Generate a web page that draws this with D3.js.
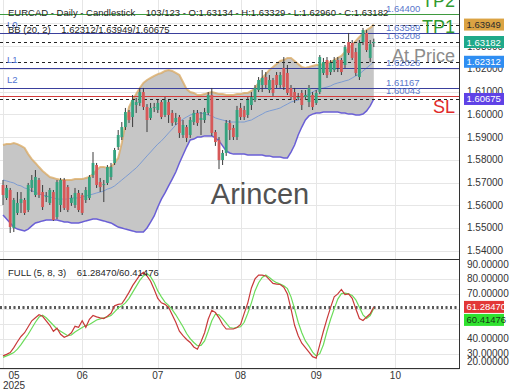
<!DOCTYPE html>
<html>
<head>
<meta charset="utf-8">
<script src="https://cdn.jsdelivr.net/npm/d3@7"></script>
<style>
  html, body { margin: 0; padding: 0; background: #fff; }
  svg { display: block; font-family: "Liberation Sans", Arial, sans-serif; }
</style>
</head>
<body>
<svg id="chart" width="520" height="390"></svg>
<script>
// --- Data -------------------------------------------------------------------
const opens = [1.5689,1.5632,1.5667,1.5500,1.5566,1.5610,1.5623,1.5579,1.5676,1.5645,
  1.5711,1.5658,1.5636,1.5610,1.5658,1.5548,1.5601,1.5711,1.5680,1.5610,
  1.5601,1.5654,1.5645,1.5623,1.5632,1.5733,1.5777,1.5702,1.5689,1.5698,
  1.5724,1.5786,1.5856,1.5900,1.5944,1.6010,1.5988,1.6041,1.6050,1.6098,
  1.6032,1.5984,1.6028,1.6019,1.6054,1.5997,1.6054,1.6006,1.5966,1.5988,
  1.5909,1.5944,1.5909,1.5966,1.6006,1.5975,1.5975,1.6006,1.6085,1.5922,
  1.5887,1.5799,1.5830,1.5962,1.5940,1.5900,1.6028,1.6019,1.5997,1.6041,
  1.6063,1.6107,1.6129,1.6164,1.6107,1.6151,1.6173,1.6129,1.6204,1.6182,
  1.6116,1.6098,1.6072,1.6094,1.6076,1.6054,1.6085,1.6050,1.6098,1.6182,
  1.6239,1.6186,1.6195,1.6239,1.6239,1.6217,1.6318,1.6314,1.6274,1.6164,
  1.6318,1.6358,1.6248,1.63134];
const highs = [1.5711,1.5689,1.5676,1.5632,1.5658,1.5658,1.5632,1.5698,1.5733,1.5755,
  1.5720,1.5689,1.5658,1.5676,1.5667,1.5711,1.5720,1.5720,1.5689,1.5645,
  1.5676,1.5667,1.5654,1.5680,1.5733,1.5834,1.5786,1.5720,1.5711,1.5777,
  1.5786,1.5852,1.5931,1.5966,1.6028,1.6019,1.6085,1.6072,1.6116,1.6116,
  1.6045,1.6050,1.6050,1.6063,1.6063,1.6076,1.6063,1.6019,1.6006,1.5997,
  1.5975,1.5953,1.5988,1.6019,1.6019,1.6010,1.6028,1.6098,1.6116,1.5931,
  1.5900,1.5843,1.5975,1.5975,1.5953,1.6037,1.6050,1.6037,1.6076,1.6098,
  1.6129,1.6164,1.6195,1.6186,1.6173,1.6160,1.6186,1.6186,1.6252,1.6217,
  1.6129,1.6116,1.6094,1.6107,1.6107,1.6129,1.6098,1.6107,1.6261,1.6248,
  1.6252,1.6239,1.6252,1.6252,1.6248,1.6305,1.6358,1.6327,1.6292,1.6327,
  1.6380,1.6371,1.6327,1.63329];
const lows = [1.5601,1.5623,1.5478,1.5482,1.5557,1.5566,1.5557,1.5570,1.5658,1.5636,
  1.5632,1.5579,1.5614,1.5601,1.5531,1.5539,1.5570,1.5579,1.5570,1.5597,
  1.5588,1.5570,1.5557,1.5610,1.5623,1.5720,1.5676,1.5658,1.5614,1.5689,
  1.5711,1.5777,1.5843,1.5887,1.5931,1.5962,1.5944,1.6006,1.6037,1.6019,
  1.5922,1.5975,1.6010,1.6006,1.5979,1.5988,1.5962,1.5949,1.5953,1.5896,
  1.5896,1.5878,1.5896,1.5953,1.5949,1.5909,1.5962,1.5997,1.5905,1.5861,
  1.5759,1.5777,1.5817,1.5887,1.5887,1.5887,1.5975,1.5975,1.5984,1.6019,
  1.6054,1.6098,1.6098,1.6116,1.6094,1.6081,1.6116,1.6116,1.6107,1.6085,
  1.6063,1.6050,1.6063,1.6019,1.6063,1.6032,1.6019,1.6041,1.6089,1.6173,
  1.6160,1.6173,1.6186,1.6186,1.6173,1.6204,1.6261,1.6239,1.6169,1.6151,
  1.6305,1.6274,1.6230,1.62960];
const closes = [1.5645,1.5676,1.5504,1.5623,1.5610,1.5627,1.5566,1.5689,1.5711,1.5724,
  1.5645,1.5592,1.5641,1.5667,1.5535,1.5702,1.5711,1.5588,1.5579,1.5632,
  1.5654,1.5579,1.5566,1.5667,1.5724,1.5786,1.5689,1.5680,1.5693,1.5768,
  1.5768,1.5843,1.5909,1.5944,1.6010,1.5975,1.6063,1.6054,1.6098,1.6032,
  1.5975,1.6028,1.6032,1.6050,1.5988,1.6063,1.5997,1.5962,1.5984,1.5918,
  1.5953,1.5896,1.5975,1.6006,1.5962,1.5984,1.6010,1.6085,1.5918,1.5878,
  1.5799,1.5830,1.5962,1.5931,1.5900,1.6019,1.5988,1.5988,1.6063,1.6076,
  1.6116,1.6151,1.6160,1.6129,1.6151,1.6094,1.6129,1.6173,1.6120,1.6094,
  1.6076,1.6063,1.6076,1.6041,1.6085,1.6116,1.6032,1.6094,1.6252,1.6230,
  1.6173,1.6226,1.6239,1.6204,1.6186,1.6296,1.6270,1.6248,1.6182,1.6314,
  1.6371,1.6283,1.6309,1.63182];

const bbUpper = [1.5865,1.5869,1.5869,1.5874,1.5869,1.5861,1.5852,1.5825,1.5803,1.5786,
  1.5768,1.5751,1.5737,1.5724,1.5720,1.5715,1.5711,1.5711,1.5711,1.5711,
  1.5715,1.5715,1.5715,1.5720,1.5724,1.5737,1.5755,1.5768,1.5768,1.5764,
  1.5768,1.5786,1.5808,1.5874,1.5957,1.6032,1.6063,1.6089,1.6116,1.6138,
  1.6151,1.6160,1.6169,1.6177,1.6182,1.6191,1.6195,1.6191,1.6182,1.6173,
  1.6142,1.6111,1.6098,1.6094,1.6085,1.6085,1.6089,1.6094,1.6098,1.6094,
  1.6089,1.6089,1.6085,1.6085,1.6085,1.6089,1.6089,1.6094,1.6094,1.6103,
  1.6116,1.6138,1.6160,1.6177,1.6195,1.6208,1.6221,1.6235,1.6239,1.6248,
  1.6248,1.6235,1.6221,1.6208,1.6204,1.6208,1.6213,1.6217,1.6217,1.6221,
  1.6226,1.6230,1.6239,1.6248,1.6257,1.6274,1.6292,1.6305,1.6323,1.6340,
  1.6358,1.6371,1.6380,1.63949];
const bbMid = [1.5711,1.5707,1.5702,1.5698,1.5689,1.5685,1.5676,1.5671,1.5663,1.5658,
  1.5649,1.5645,1.5641,1.5636,1.5632,1.5627,1.5627,1.5627,1.5627,1.5632,
  1.5632,1.5632,1.5636,1.5641,1.5645,1.5649,1.5654,1.5658,1.5663,1.5671,
  1.5676,1.5685,1.5698,1.5711,1.5724,1.5737,1.5751,1.5764,1.5781,1.5799,
  1.5817,1.5834,1.5852,1.5869,1.5883,1.5900,1.5918,1.5935,1.5953,1.5966,
  1.5979,1.5988,1.5997,1.6001,1.6006,1.6006,1.6001,1.5997,1.5993,1.5984,
  1.5979,1.5975,1.5971,1.5966,1.5966,1.5966,1.5966,1.5966,1.5971,1.5975,
  1.5984,1.5993,1.6001,1.6010,1.6015,1.6019,1.6023,1.6028,1.6037,1.6045,
  1.6054,1.6059,1.6063,1.6072,1.6081,1.6089,1.6098,1.6107,1.6111,1.6116,
  1.6120,1.6125,1.6133,1.6138,1.6142,1.6147,1.6151,1.6160,1.6169,1.6177,
  1.6191,1.6204,1.6217,1.62312];
const bbLower = [1.5557,1.5539,1.5522,1.5504,1.5495,1.5491,1.5487,1.5495,1.5509,1.5522,
  1.5526,1.5531,1.5535,1.5535,1.5535,1.5535,1.5531,1.5526,1.5526,1.5522,
  1.5522,1.5522,1.5526,1.5531,1.5535,1.5539,1.5539,1.5535,1.5531,1.5526,
  1.5522,1.5513,1.5504,1.5500,1.5495,1.5491,1.5487,1.5482,1.5482,1.5482,
  1.5500,1.5526,1.5553,1.5592,1.5627,1.5654,1.5685,1.5715,1.5746,1.5786,
  1.5821,1.5856,1.5887,1.5891,1.5900,1.5900,1.5905,1.5905,1.5905,1.5896,
  1.5883,1.5861,1.5839,1.5830,1.5825,1.5825,1.5825,1.5825,1.5821,1.5821,
  1.5821,1.5821,1.5821,1.5817,1.5817,1.5812,1.5812,1.5812,1.5808,1.5808,
  1.5834,1.5865,1.5909,1.5944,1.5975,1.5993,1.6001,1.6006,1.6006,1.6010,
  1.6010,1.6010,1.6010,1.6010,1.6006,1.6006,1.6001,1.6001,1.5997,1.5997,
  1.6001,1.6015,1.6037,1.60675];

const stochK = [28.5,29.5,30.7,34,38,41.5,44,48,52,54,
  56,55,52,49,45,47,43,41,42,44,
  48.3,47.6,52,47.6,53,55.5,54.6,54,53.5,55,
  57,62,63,63.4,67,71,75.5,79,82.5,84.5,
  82,78.5,73,67,64,63,61,56,51,45,
  42,39.5,37.5,34.5,33,38,44,53,59,57.5,
  54,49.5,46.5,46.5,46.5,47.5,49.5,57,64,74,
  80,82.6,82.6,82,79.5,77,76.5,76.3,74.5,70,
  60,49,42,37,34,31,28,27,36,45,
  53.3,61,68,70,73,69.5,70,67,60,53.5,
  52.2,54.5,56.7,61.28470];
const stochD = [27.5,28.5,29.5,30.7,33,36,39.5,43,47,51,
  54.5,55.8,54,51.5,49,46.5,45,43.5,42,42.5,
  44.5,46,47.5,48.8,49.5,51,52.5,53.3,54,54.5,
  55.5,58,60.5,62,64,67,71,75,79,82,
  83.7,81.5,77.5,72,68,64.5,62.3,59.5,56,52,
  48,43.5,40,37.5,35.3,35.5,38.5,45,52,56.5,
  56,53.5,50.5,47.5,47,47.6,48,51,57,64,
  72,77.5,81,82.6,81,79,77.5,76.5,75.5,73.5,
  68,60,51,44,38.5,35,31,28.5,30,36,
  45,53,60,66.5,70.2,70.5,70,69,66,61,
  56,53.5,55.5,60.41476];

// month starts as bar index (bar 0 = first trading day of May)
const monthTicks = [
  { label: "05", bar: 0 }, { label: "06", bar: 22 }, { label: "07", bar: 43 },
  { label: "08", bar: 66 }, { label: "09", bar: 87 }, { label: "10", bar: 109 }
];
const yearLabel = "2025";
const priceTicks = [1.54, 1.55, 1.56, 1.57, 1.58, 1.59, 1.60, 1.61, 1.62, 1.63, 1.64];
const stochTicks = [20, 30, 40, 50, 60, 70, 80, 90];

// trade levels drawn as solid lines
const levelLines = [
  { value: 1.64400, color: "#3f9a3f" },
  { value: 1.63589, color: "#3a3f9c" },
  { value: 1.62026, color: "#3a3f9c" },
  { value: 1.61167, color: "#3a3f9c" },
  { value: 1.60800, color: "#d23a3a" }
];
// value captions next to the levels
const levelCaptions = [
  { text: "1.64400", value: 1.64400 }, { text: "1.63589", value: 1.63589 },
  { text: "1.63208", value: 1.63208 }, { text: "1.62026", value: 1.62026 },
  { text: "1.61167", value: 1.61167 }, { text: "1.60043", value: 1.60800 }
];
const levelNames = [
  { text: "L0", value: 1.63589 }, { text: "L1", value: 1.62026 }, { text: "L2", value: 1.61167 }
];
const tags = [
  { text: "TP2", value: 1.64400, dy: -7, color: "#2f9a2f" },
  { text: "TP1", value: 1.63589, dy: 0, color: "#2f9a2f" },
  { text: "At Price", value: 1.62312, dy: 0, color: "#8c8c8c" },
  { text: "SL", value: 1.60043, dy: 0, color: "#e02a2a" }
];

// --- Scales ---------------------------------------------------------------------
const svg = d3.select("#chart");
const PR = 459.5;               // right edge of the plot panels
const last = closes.length - 1;
const f5 = d3.format(".5f");

const x = d3.scaleLinear().domain([0, 127]).range([3, 460.2]);
const y = d3.scaleLinear().domain([1.5359, 1.6503]).range([260, 0]);
const ys = d3.scaleLinear().domain([20, 90]).range([368.6, 264]);

const defs = svg.append("defs");
defs.append("clipPath").attr("id", "clipMain")
  .append("rect").attr("x", 0).attr("y", 0).attr("width", PR).attr("height", 259.5);
defs.append("clipPath").attr("id", "clipStoch")
  .append("rect").attr("x", 0).attr("y", 260).attr("width", PR).attr("height", 108.5);

// --- Grid -----------------------------------------------------------------------
const grid = svg.append("g").attr("stroke", "#e6e6e6").attr("stroke-width", 1);
grid.selectAll("line.v").data(monthTicks).enter().append("line")
  .attr("x1", d => Math.round(x(d.bar)) + 0.5).attr("x2", d => Math.round(x(d.bar)) + 0.5)
  .attr("y1", 0).attr("y2", 368);
grid.selectAll("line.h").data(priceTicks).enter().append("line")
  .attr("x1", 0).attr("x2", PR)
  .attr("y1", d => Math.round(y(d)) + 0.5).attr("y2", d => Math.round(y(d)) + 0.5);
grid.selectAll("line.s").data(stochTicks.filter(t => t < 90)).enter().append("line")
  .attr("x1", 0).attr("x2", PR)
  .attr("y1", d => Math.round(ys(d)) + 0.5).attr("y2", d => Math.round(ys(d)) + 0.5);

// --- Main panel -----------------------------------------------------------------
const main = svg.append("g").attr("clip-path", "url(#clipMain)");

// Bollinger band
main.append("path")
  .datum(bbUpper)
  .attr("fill", "#c6c6c6")
  .attr("d", d3.area().x((d, i) => x(i)).y0((d, i) => y(bbLower[i])).y1(d => y(d)));
const bandLine = (arr, color, w, op) => main.append("path").datum(arr)
  .attr("fill", "none").attr("stroke", color).attr("stroke-width", w).attr("stroke-opacity", op)
  .attr("d", d3.line().x((d, i) => x(i)).y(d => y(d)));
bandLine(bbUpper, "#d9a860", 2, 0.75);
bandLine(bbLower, "#6a5fd6", 1.5, 1);
bandLine(bbMid, "#7d9cd2", 1, 1);

// watermark
main.append("text")
  .attr("x", 260).attr("y", 204).attr("text-anchor", "middle")
  .attr("font-size", 29).attr("fill", "#525252")
  .text("Arincen");

// level lines
main.selectAll("line.level").data(levelLines).enter().append("line")
  .attr("x1", 0).attr("x2", PR)
  .attr("y1", d => Math.round(y(d.value)) + 0.5).attr("y2", d => Math.round(y(d.value)) + 0.5)
  .attr("stroke", d => d.color).attr("stroke-width", 1.2);

// current-value dashed lines
const currentBoxes = [
  { value: bbUpper[last], fill: "#dba343", text: "#2b2b2b" },
  { value: closes[last], fill: "#1fa98a", text: "#ffffff" },
  { value: bbMid[last], fill: "#2f8ef2", text: "#ffffff" },
  { value: bbLower[last], fill: "#5f42e6", text: "#ffffff" }
];
main.selectAll("line.cur").data(currentBoxes).enter().append("line")
  .attr("x1", 0).attr("x2", PR)
  .attr("y1", d => Math.round(y(d.value)) + 0.5).attr("y2", d => Math.round(y(d.value)) + 0.5)
  .attr("stroke", "#222").attr("stroke-width", 1).attr("stroke-dasharray", "3,3");

// candles
const bars = d3.range(closes.length);
const candle = main.append("g").selectAll("g").data(bars).enter().append("g");
candle.append("line")
  .attr("x1", i => x(i)).attr("x2", i => x(i))
  .attr("y1", i => y(highs[i])).attr("y2", i => y(lows[i]))
  .attr("stroke", "#3a3a3a").attr("stroke-width", 1);
candle.append("rect")
  .attr("x", i => x(i) - 1.4).attr("width", 2.8)
  .attr("y", i => y(Math.max(opens[i], closes[i])))
  .attr("height", i => Math.max(1, Math.abs(y(opens[i]) - y(closes[i]))))
  .attr("fill", i => closes[i] >= opens[i] ? "#36a37f" : "#d65858");

// captions
main.selectAll("text.cap").data(levelCaptions).enter().append("text")
  .attr("x", 386).attr("y", d => y(d.value) - 2)
  .attr("font-size", 9.5).attr("fill", "#5a78cc")
  .text(d => d.text);
main.selectAll("text.lname").data(levelNames).enter().append("text")
  .attr("x", 7).attr("y", d => y(d.value) - 5)
  .attr("font-size", 9.5).attr("fill", "#5073d2")
  .text(d => d.text);
main.selectAll("text.tag").data(tags).enter().append("text")
  .attr("x", 455).attr("y", d => y(d.value) + d.dy).attr("text-anchor", "end")
  .attr("font-size", 18).attr("fill", d => d.color)
  .text(d => d.text);

// header
svg.append("text").attr("x", 8).attr("y", 16).attr("font-size", 9.5).attr("fill", "#262626")
  .style("white-space", "pre")
  .text(`EURCAD - Daily - Candlestick    ${closes.length - 1}/123 - O:${f5(opens[last])} - H:${f5(highs[last])} - L:${f5(lows[last])} - C:${f5(closes[last])}`);
svg.append("text").attr("x", 8).attr("y", 33).attr("font-size", 9.5).attr("fill", "#262626")
  .style("white-space", "pre")
  .text(`BB (20, 2)    ${f5(bbMid[last])}/${f5(bbUpper[last])}/${f5(bbLower[last])}`);

// --- Stochastic panel -------------------------------------------------------------
const stoch = svg.append("g").attr("clip-path", "url(#clipStoch)");
const stochLine = d3.line().x((d, i) => x(i)).y(d => ys(d));
const stochBoxes = [
  { value: stochK[last], fill: "#e23636", text: "#ffffff" },
  { value: stochD[last], fill: "#2fe22f", text: "#173a17" }
];
stoch.selectAll("line.cur").data(stochBoxes).enter().append("line")
  .attr("x1", 0).attr("x2", PR)
  .attr("y1", d => ys(d.value)).attr("y2", d => ys(d.value))
  .attr("stroke", "#222").attr("stroke-width", 1.3).attr("stroke-dasharray", "2,2.5");
stoch.append("path").datum(stochD).attr("fill", "none")
  .attr("stroke", "#6bdc5a").attr("stroke-width", 1.2).attr("d", stochLine);
stoch.append("path").datum(stochK).attr("fill", "none")
  .attr("stroke", "#c83a3a").attr("stroke-width", 1.2).attr("d", stochLine);

svg.append("text").attr("x", 8).attr("y", 276).attr("font-size", 9.5).attr("fill", "#262626")
  .style("white-space", "pre")
  .text(`FULL (5, 8, 3)    ${f5(stochK[last])}/${f5(stochD[last])}`);

// --- Frames -----------------------------------------------------------------------
const frame = svg.append("g").attr("stroke", "#333").attr("stroke-width", 1);
frame.append("line").attr("x1", 0).attr("x2", PR).attr("y1", 259.5).attr("y2", 259.5);
frame.append("line").attr("x1", 0).attr("x2", PR).attr("y1", 368.5).attr("y2", 368.5);
frame.append("line").attr("x1", PR).attr("x2", PR).attr("y1", 0).attr("y2", 369);

// --- Axes ---------------------------------------------------------------------------
svg.append("g").selectAll("text").data(priceTicks).enter().append("text")
  .attr("x", 467).attr("y", d => y(d) + 3.5)
  .attr("font-size", 10).attr("fill", "#333")
  .text(d => f5(d));
svg.append("g").selectAll("text").data(stochTicks.filter(t => t !== 50 && t !== 60)).enter().append("text")
  .attr("x", 467).attr("y", d => Math.min(ys(d), 361.5) + 3.5)
  .attr("font-size", 10).attr("fill", "#333")
  .text(d => f5(d));

const drawBoxes = (list, scale) => {
  let prev = -Infinity;
  list.forEach(b => {
    let cy = Math.max(scale(b.value), prev + 13);
    prev = cy;
    svg.append("rect").attr("x", 464).attr("y", cy - 6).attr("width", 40).attr("height", 12)
      .attr("fill", b.fill);
    svg.append("text").attr("x", 466.5).attr("y", cy + 3.5)
      .attr("font-size", 9.5).attr("fill", b.text).text(f5(b.value));
  });
};
drawBoxes(currentBoxes, y);
drawBoxes(stochBoxes, ys);

svg.append("g").selectAll("text").data(monthTicks).enter().append("text")
  .attr("x", d => Math.max(x(d.bar), 14)).attr("y", 379).attr("text-anchor", "middle")
  .attr("font-size", 10).attr("fill", "#333")
  .text(d => d.label);
svg.append("text").attr("x", 14).attr("y", 389).attr("text-anchor", "middle")
  .attr("font-size", 10).attr("fill", "#333").text(yearLabel);
</script>
</body>
</html>
